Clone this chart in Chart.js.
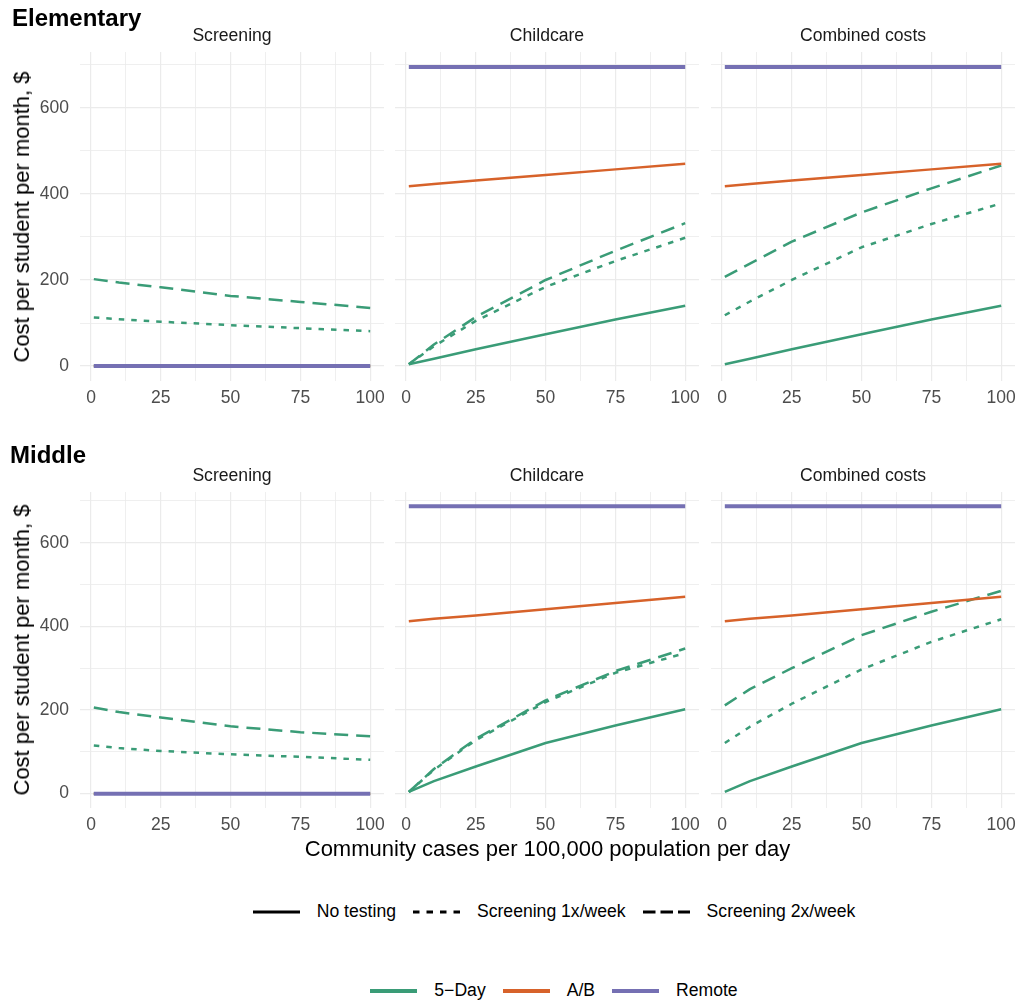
<!DOCTYPE html>
<html>
<head>
<meta charset="utf-8">
<script src="https://cdn.jsdelivr.net/npm/chart.js@4.4.1/dist/chart.umd.min.js"></script>
<style>
  body { margin: 0; background: #fff; }
  #fig { position: relative; width: 1018px; height: 1001px; overflow: hidden; background: #fff;
         font-family: 'Liberation Sans', Arial, sans-serif; }
  .txt { position: absolute; line-height: 1; white-space: nowrap; }
  .panel { position: absolute; }
  .legend { position: absolute; left: 0; width: 1108px; height: 24px; display: flex;
            justify-content: center; align-items: center; font-size: 17.6px; color: #000; }
  .legend svg { display: block; flex: none; }
</style>
</head>
<body>
<div id="fig"></div>
<script>
// community cases per 100,000 per day
const casesX = [1, 10, 25, 50, 75, 100];

// Elementary, cost per student per month ($)
const elemScreen1x   = [113, 109, 103, 95, 88, 81];
const elemScreen2x   = [202, 194, 183, 163, 149, 135];
const elemChild5Day  = [4, 17, 39, 74, 108, 140];
const elemChild1x    = [4, 46, 105, 184, 244, 298];
const elemChild2x    = [4, 50, 114, 200, 268, 332];
const elemCombined1x = [118, 150, 200, 276, 330, 378];
const elemCombined2x = [207, 238, 289, 357, 413, 466];
const elemAB         = [418, 423, 431, 444, 457, 470];
const elemRemote     = [695, 695, 695, 695, 695, 695];

// Middle
const midScreen1x   = [115, 109, 102, 94, 88, 81];
const midScreen2x   = [206, 195, 182, 161, 147, 137];
const midChild5Day  = [4, 30, 65, 121, 163, 202];
const midChild1x    = [4, 57, 128, 219, 289, 336];
const midChild2x    = [4, 59, 131, 223, 293, 347];
const midCombined1x = [121, 160, 215, 297, 363, 417];
const midCombined2x = [211, 250, 300, 379, 435, 485];
const midAB         = [412, 418, 426, 441, 456, 471];
const midRemote     = [687, 687, 687, 687, 687, 687];

const noCost = [0, 0, 0, 0, 0, 0];

const facetNames = ['Screening', 'Childcare', 'Combined costs'];
const rowNames = ['Elementary', 'Middle'];
const yTicks = [0, 100, 200, 300, 400, 500, 600, 700];
const xTicks = [0, 12.5, 25, 37.5, 50, 62.5, 75, 87.5, 100];

const colors = { '5-Day': '#3a9c77', 'A/B': '#d7622a', 'Remote': '#7570b3' };
const dashes = { none: [], '1x': [5.5, 7], '2x': [14, 8] };

// each facet: remote first so it is drawn on top
const rows = [
  [
    [['Remote', 'none', noCost], ['A/B', 'none', noCost], ['5-Day', '2x', elemScreen2x], ['5-Day', '1x', elemScreen1x], ['5-Day', 'none', noCost]],
    [['Remote', 'none', elemRemote], ['A/B', 'none', elemAB], ['5-Day', '2x', elemChild2x], ['5-Day', '1x', elemChild1x], ['5-Day', 'none', elemChild5Day]],
    [['Remote', 'none', elemRemote], ['A/B', 'none', elemAB], ['5-Day', '2x', elemCombined2x], ['5-Day', '1x', elemCombined1x], ['5-Day', 'none', elemChild5Day]]
  ],
  [
    [['Remote', 'none', noCost], ['A/B', 'none', noCost], ['5-Day', '2x', midScreen2x], ['5-Day', '1x', midScreen1x], ['5-Day', 'none', noCost]],
    [['Remote', 'none', midRemote], ['A/B', 'none', midAB], ['5-Day', '2x', midChild2x], ['5-Day', '1x', midChild1x], ['5-Day', 'none', midChild5Day]],
    [['Remote', 'none', midRemote], ['A/B', 'none', midAB], ['5-Day', '2x', midCombined2x], ['5-Day', '1x', midCombined1x], ['5-Day', 'none', midChild5Day]]
  ]
];

// layout
const PANEL_LEFT = [80, 395, 711];
const PANEL_W = 304;
const ROW_TOP = [52, 492];
const ROW_H = [329, 316];
const Y_AXIS_W = 70;
const X_AXIS_H = 40;
const PAD = { top: 26, left: 10, right: 22, bottom: 0 };
const FONT = "'Liberation Sans', Arial, sans-serif";

Chart.defaults.font.family = FONT;

const fig = document.getElementById('fig');

function placeText(str, o) {
  const d = document.createElement('div');
  d.className = 'txt';
  d.textContent = str;
  d.style.fontSize = o.size + 'px';
  d.style.fontWeight = o.weight || 'normal';
  d.style.color = o.color || '#000';
  d.style.top = (o.baseline - 0.8465 * o.size) + 'px';
  d.style.left = o.x + 'px';
  if (o.align === 'center') d.style.transform = 'translateX(-50%)';
  fig.appendChild(d);
  return d;
}

rows.forEach((facets, r) => {
  let yMax = 0;
  facets.forEach(f => f.forEach(s => s[2].forEach(v => { if (v > yMax) yMax = v; })));
  const yMin = -0.05 * yMax;
  const yTop = 1.05 * yMax;
  const xSpan = casesX[casesX.length - 1] - casesX[0];
  const xMin = casesX[0] - 0.05 * xSpan;
  const xMax = casesX[casesX.length - 1] + 0.05 * xSpan;

  facets.forEach((series, c) => {
    const yw = c === 0 ? Y_AXIS_W : 0;
    const wrap = document.createElement('div');
    wrap.className = 'panel';
    const cw = PAD.left + yw + PANEL_W + PAD.right;
    const ch = PAD.top + ROW_H[r] + X_AXIS_H;
    const left0 = PANEL_LEFT[c] - yw - PAD.left;
    const top0 = ROW_TOP[r] - PAD.top;
    wrap.style.left = left0 + 'px';
    wrap.style.top = top0 + 'px';
    const cv = document.createElement('canvas');
    cv.width = cw; cv.height = ch;
    cv.style.width = cw + 'px'; cv.style.height = ch + 'px';
    wrap.appendChild(cv);
    fig.appendChild(wrap);

    const datasets = series.map(([group, test, vals]) => ({
      label: group + ' ' + test,
      data: casesX.map((x, i) => ({ x: x, y: vals[i] })),
      borderColor: colors[group],
      borderWidth: group === 'Remote' ? 4 : 2.5,
      borderDash: dashes[test],
      borderCapStyle: 'butt',
      borderJoinStyle: 'round',
      pointRadius: 0,
      tension: 0,
      fill: false
    }));

    const chart = new Chart(cv.getContext('2d'), {
      type: 'line',
      data: { datasets },
      options: {
        responsive: false,
        animation: false,
        devicePixelRatio: 1,
        layout: { padding: PAD },
        plugins: { legend: { display: false }, tooltip: { enabled: false } },
        scales: {
          x: {
            type: 'linear',
            min: xMin, max: xMax,
            afterBuildTicks: s => { s.ticks = xTicks.map(v => ({ value: v })); },
            afterFit: s => { s.height = X_AXIS_H; },
            border: { display: false },
            grid: {
              color: '#ebebeb',
              lineWidth: ctx => (ctx.tick && ctx.tick.value % 25 === 0 ? 1.2 : 0.8),
              drawTicks: false
            },
            ticks: {
              autoSkip: false, maxRotation: 0, padding: 7,
              color: '#4d4d4d', font: { size: 17.5, family: FONT },
              callback: v => (v % 25 === 0 ? v : '')
            }
          },
          y: {
            type: 'linear',
            min: yMin, max: yTop,
            afterBuildTicks: s => { s.ticks = yTicks.map(v => ({ value: v })); },
            afterFit: s => { s.width = yw; },
            border: { display: false },
            grid: {
              color: '#ebebeb',
              lineWidth: ctx => (ctx.tick && ctx.tick.value % 200 === 0 ? 1.2 : 0.8),
              drawTicks: false
            },
            ticks: {
              display: c === 0, padding: 11,
              color: '#4d4d4d', font: { size: 17.5, family: FONT },
              callback: v => (v % 200 === 0 ? v : '')
            }
          }
        }
      }
    });

    // keep the plot area exactly where the panel should be
    const ca = chart.chartArea;
    wrap.style.left = (left0 + (PAD.left + yw - ca.left)) + 'px';
    wrap.style.top = (top0 + (PAD.top - ca.top)) + 'px';

    // facet strip label
    placeText(facetNames[c], { x: PANEL_LEFT[c] + PANEL_W / 2, baseline: ROW_TOP[r] - 10.5, size: 17.6, color: '#1a1a1a', align: 'center' });
  });

  // row title
  placeText(rowNames[r], { x: r === 0 ? 12 : 10, baseline: r === 0 ? 26 : 463.5, size: 24, weight: 'bold' });

  // y axis title
  const yt = document.createElement('div');
  yt.className = 'txt';
  yt.textContent = 'Cost per student per month, $';
  yt.style.fontSize = '22px';
  yt.style.left = '21.7px';
  yt.style.top = (ROW_TOP[r] + ROW_H[r] / 2) + 'px';
  yt.style.transform = 'translate(-50%, -50%) rotate(-90deg)';
  fig.appendChild(yt);
});

// x axis title
placeText('Community cases per 100,000 population per day', { x: 547.5, baseline: 857, size: 22, align: 'center' });

// legends
function keySvg(color, width, dash) {
  const ns = 'http://www.w3.org/2000/svg';
  const svg = document.createElementNS(ns, 'svg');
  svg.setAttribute('width', 47); svg.setAttribute('height', 10);
  const ln = document.createElementNS(ns, 'line');
  ln.setAttribute('x1', 0); ln.setAttribute('x2', 47);
  ln.setAttribute('y1', 5); ln.setAttribute('y2', 5);
  ln.setAttribute('stroke', color);
  ln.setAttribute('stroke-width', width);
  if (dash) ln.setAttribute('stroke-dasharray', dash);
  svg.appendChild(ln);
  return svg;
}

function legendRow(items, centerY) {
  const row = document.createElement('div');
  row.className = 'legend';
  row.style.top = (centerY - 12) + 'px';
  items.forEach((it, i) => {
    const k = keySvg(it.color, it.width, it.dash);
    k.style.marginRight = '17px';
    row.appendChild(k);
    const t = document.createElement('span');
    t.textContent = it.label;
    t.style.lineHeight = '1';
    if (i < items.length - 1) t.style.marginRight = '17px';
    row.appendChild(t);
  });
  fig.appendChild(row);
}

const testLabels = ['No testing', 'Screening 1x/week', 'Screening 2x/week'];
legendRow([
  { label: testLabels[0], color: '#000', width: 3 },
  { label: testLabels[1], color: '#000', width: 3, dash: '6.5 7' },
  { label: testLabels[2], color: '#000', width: 3, dash: '12.5 5' }
], 912);

const modelLabels = ['5\u2212Day', 'A/B', 'Remote'];
legendRow([
  { label: modelLabels[0], color: colors['5-Day'], width: 4 },
  { label: modelLabels[1], color: colors['A/B'], width: 4 },
  { label: modelLabels[2], color: colors['Remote'], width: 4 }
], 991);
</script>
</body>
</html>
